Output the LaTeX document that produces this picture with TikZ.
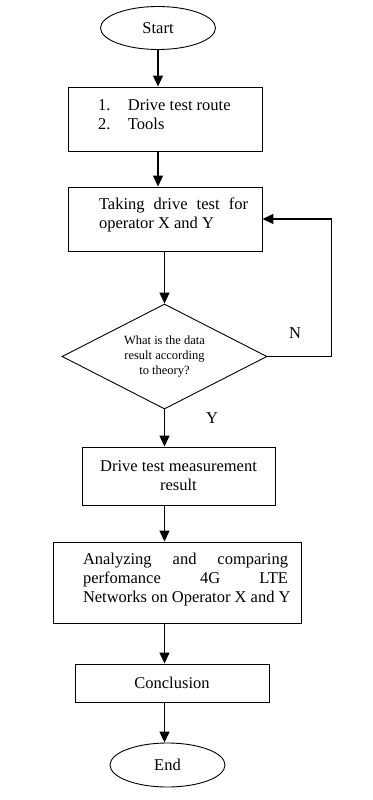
\documentclass[tikz,border=0pt]{standalone}
\usepackage{fontspec}
\setmainfont{Liberation Serif}
\usetikzlibrary{shapes.geometric,arrows.meta}
\begin{document}
\begin{tikzpicture}[x=1pt,y=-1pt,
  every node/.style={font=\fontsize{16.5}{19}\selectfont},
  box/.style={draw,rectangle,line width=0.9pt,inner sep=0pt},
  term/.style={draw,ellipse,line width=0.9pt,minimum width=115pt,minimum height=43pt,inner sep=0pt},
  decision/.style={draw,diamond,aspect=2,line width=0.9pt,minimum width=205pt,minimum height=105pt,inner sep=0pt,align=center,font=\fontsize{12.5}{15}\selectfont},
  arr/.style={-{Triangle[width=10pt,length=11pt]},line width=1.2pt}]
\useasboundingbox (0,0) rectangle (372,800);
\node[term] (start) at (158,28) {Start};
\node[box,minimum width=194pt,minimum height=64pt] (route) at (165,119) {\raisebox{4pt}[\height][\depth]{\parbox{134pt}{\baselineskip=19pt \makebox[30pt][l]{1.}Drive test route\\\makebox[30pt][l]{2.}Tools}}};
\node[box,minimum width=194pt,minimum height=64pt] (taking) at (165,219) {\raisebox{4pt}[\height][\depth]{\hspace*{17pt}\parbox{149pt}{\baselineskip=19pt Taking drive test for\linebreak operator X and Y}}};
\node[decision] (check) at (164.5,356.5) {What is the data\\result according\\to theory?};
\node[box,minimum width=193pt,minimum height=58pt,align=center] (result) at (178.5,476) {Drive test measurement\\result};
\node[box,minimum width=248pt,minimum height=81pt] (analyze) at (177,582.5) {\raisebox{3pt}[\height][\depth]{\hspace*{17pt}\parbox{205pt}{\baselineskip=19pt Analyzing and comparing\linebreak perfomance 4G LTE\linebreak \mbox{Networks on Operator X and Y}}}};
\node[box,minimum width=194pt,minimum height=38pt] (concl) at (172,683) {Conclusion};
\node[term,minimum height=44pt] (end) at (167.5,765) {End};
\node (no) at (295,333) {N};
\node (yes) at (212,418) {Y};
\draw[arr] (start) -- (start |- route.north);
\draw[arr] (route.south -| start) -- (taking.north -| start);
\draw[arr] (taking.south -| check) -- (check);
\draw[arr] (check.east) -- ++(64,0) |- (taking.east);
\draw[arr] (check) -- (check |- result.north);
\draw[arr] (result.south -| check) -- (analyze.north -| check);
\draw[arr] (analyze.south -| check) -- (concl.north -| check);
\draw[arr] (concl.south -| check) -- (end.north -| check);
\end{tikzpicture}
\end{document}
